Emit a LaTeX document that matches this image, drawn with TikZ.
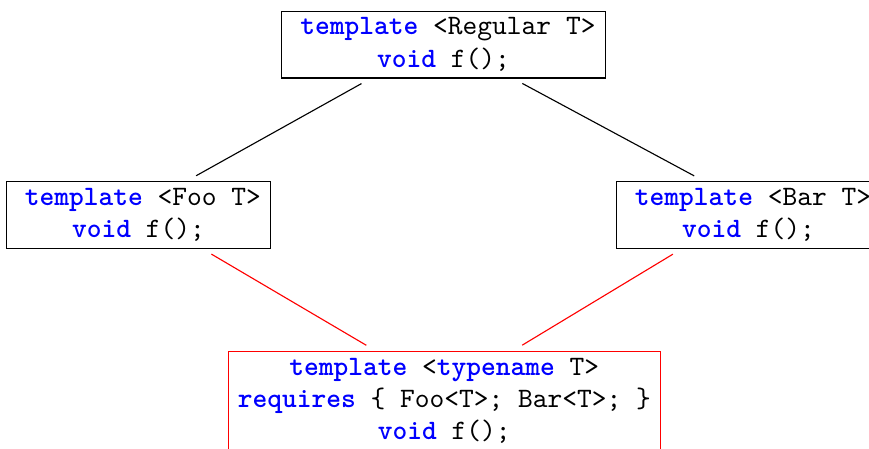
\documentclass[tikz,border=0pt]{standalone}
\usepackage{fontspec}
\newcommand{\kw}[1]{\textcolor{blue}{\textbf{#1}}}
\begin{document}
\begin{tikzpicture}[level distance=21.3mm, sibling distance=76.3mm,
    code/.style={draw, align=center, font=\ttfamily\fontsize{10}{11.5}\selectfont,
      inner xsep=3.4pt, inner ysep=2.4pt},
    link/.style={shorten <=3.7pt, shorten >=3.7pt},
    edge from parent/.style={draw=none}]
  \useasboundingbox (-5.547,0.557) rectangle (5.322,-5.047);
  \node[code] (regular) {\hspace{3.2pt}\kw{template} <Regular T>\\\kw{void} f();}
    child{node[code] (foo) {\hspace{3.2pt}\kw{template} <Foo T>\\\kw{void} f();}}
    child{node[code] (bar) {\hspace{3.2pt}\kw{template} <Bar T>\\\kw{void} f();}};
  \node[code, draw=red] (both) at (0.01,-4.455)
    {\kw{template} <\kw{typename} T>\\\kw{requires} \{ Foo<T>; Bar<T>; \}\\\kw{void} f();};
  % refinements
  \draw[link] (regular.205.7) -- (foo.35.8);
  \draw[link] (regular.334.6) -- (bar.143.6);
  \draw[link, red] (foo.332.4) -- (both.144);
  \draw[link, red] (bar.207.6) -- (both.36);
\end{tikzpicture}
\end{document}
